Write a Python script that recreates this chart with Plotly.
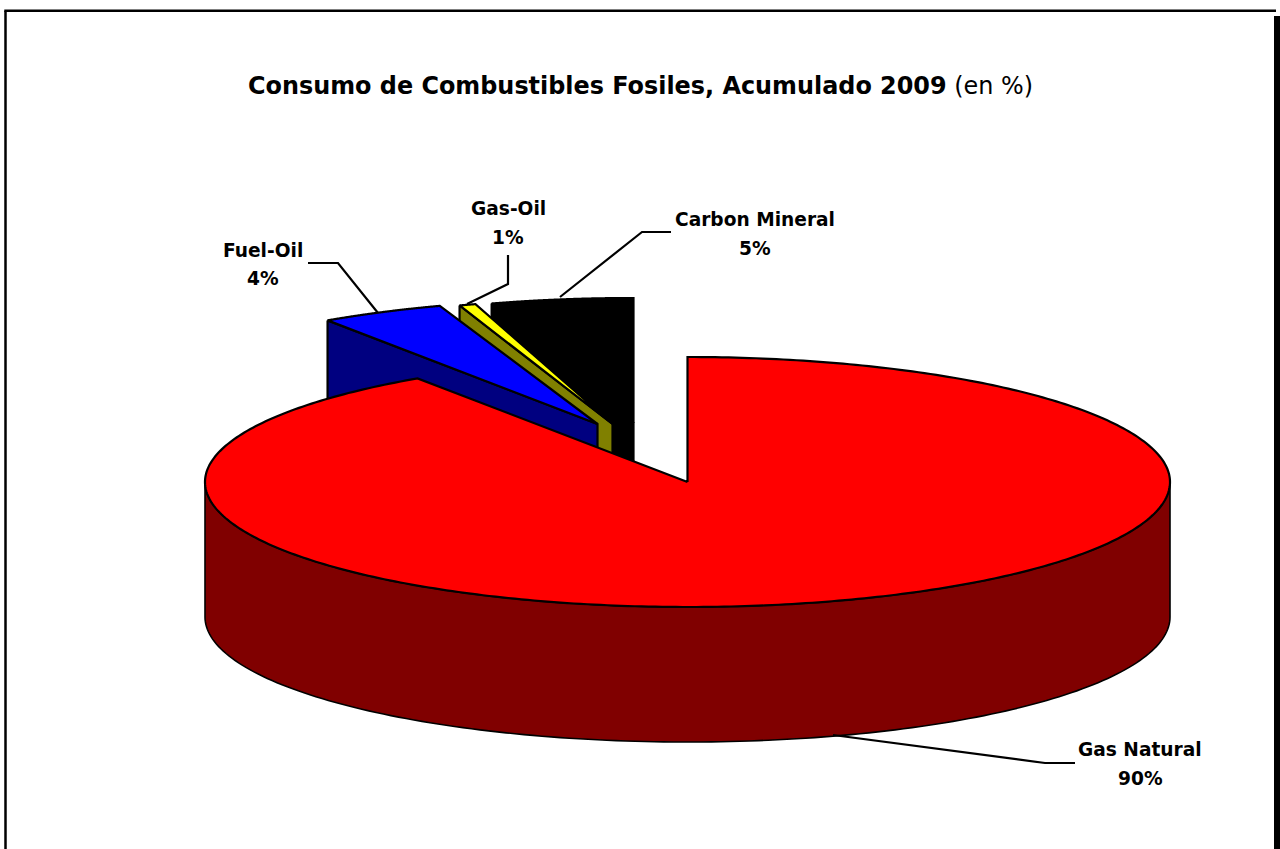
import numpy as np
import plotly.graph_objects as go

# Data
categories = ["Gas Natural", "Fuel-Oil", "Gas-Oil", "Carbon Mineral"]
values = [90.55, 4.15, 0.55, 4.75]            # slice sizes
label_pct = ["90%", "4%", "1%", "5%"]
top_colors = ["#FF0000", "#0000FF", "#FFFF00", "#000000"]
side_colors = ["#800000", "#000080", "#808000", "#000000"]

# Pie projection
CX, CY, RX, RY, DEPTH = 687.5, 482.0, 482.5, 125.0, 135.0
explode = [(0, 0), (-90, -58), (-75, -58), (-54, -59)]
angle_nudge = [0, 0, 0.6, 0]
leaders = {
    "Gas Natural": ([1075, 1045, 833], [763, 763, 735]),
    "Fuel-Oil": ([308, 338, 378], [263, 263, 313]),
    "Gas-Oil": ([508, 508, 467], [255, 284, 304]),
    "Carbon Mineral": ([671, 642, 560], [232, 232, 297]),
}
label_pos = {  # centre x, name-line y, percent-line y
    "Gas Natural": (1140, 749, 778),
    "Fuel-Oil": (263, 250, 278),
    "Gas-Oil": (508, 208, 237),
    "Carbon Mineral": (755, 219, 248),
}
LABEL_SIZE = 18.6
TITLE_SIZE = 23.9
LINE = 2.2
FONT = "DejaVu Sans"

fig = go.Figure()


def poly(x, y, fill, width=LINE):
    fig.add_trace(go.Scatter(
        x=np.append(x, x[0]), y=np.append(y, y[0]), mode="lines", fill="toself",
        fillcolor=fill, line=dict(color="#000000", width=width, simplify=False),
        hoverinfo="skip", showlegend=False))


def arc(a0, a1, ox, oy, n=160):
    t = np.radians(np.linspace(a0, a1, n))
    return CX + ox + RX * np.sin(t), CY + oy - RY * np.cos(t)


ends = np.cumsum(values) * 3.6 / (sum(values) / 100)
starts = np.concatenate([[0], ends[:-1]])

# Exploded slices, back to front
for i in (3, 2, 1):
    ox, oy = explode[i]
    ax, ay = CX + ox, CY + oy
    ax0, ay0 = arc(starts[i] + angle_nudge[i], ends[i] + angle_nudge[i], ox, oy)
    # left radial wall (from the slice's first edge to the apex)
    wx = np.array([ax0[0], ax, ax, ax0[0]])
    wy = np.array([ay0[0], ay, ay + DEPTH, ay0[0] + DEPTH])
    poly(wx, wy, side_colors[i])
    poly(np.concatenate([[ax], ax0]), np.concatenate([[ay], ay0]), top_colors[i])

# Main slice: outer wall, then top face
wx, wy = arc(90, 270, 0, 0)
poly(np.concatenate([wx, wx[::-1]]), np.concatenate([wy, wy[::-1] + DEPTH]), side_colors[0], 1.6)
tx, ty = arc(starts[0], ends[0], 0, 0, 400)
poly(np.concatenate([[CX], tx]), np.concatenate([[CY], ty]), top_colors[0])

# Leader lines
for name in categories:
    lx, ly = leaders[name]
    fig.add_trace(go.Scatter(x=lx, y=ly, mode="lines", line=dict(color="#000000", width=LINE),
                             hoverinfo="skip", showlegend=False))

# Data labels
for name, pct in zip(categories, label_pct):
    px, y1, y2 = label_pos[name]
    for txt, py in ((name, y1), (pct, y2)):
        fig.add_annotation(x=px, y=py, text=f"<b>{txt}</b>", showarrow=False,
                           font=dict(family=FONT, size=LABEL_SIZE, color="#000000"),
                           align="center", xanchor="center", yanchor="middle")

fig.add_annotation(x=640, y=86, showarrow=False, xanchor="center", yanchor="middle",
                   text="<b>Consumo de Combustibles Fosiles, Acumulado 2009</b> (en %)",
                   font=dict(family=FONT, size=TITLE_SIZE, color="#000000"))

# Chart-area frame
fig.add_shape(type="line", x0=5.5, x1=5.5, y0=849, y1=10.7, line=dict(color="#000000", width=2.5))
fig.add_shape(type="line", x0=4.3, x1=1276, y0=10.7, y1=10.7, line=dict(color="#000000", width=2.5))
fig.add_shape(type="rect", x0=1274, x1=1280, y0=16, y1=849, fillcolor="#000000", line=dict(width=0))

fig.update_layout(
    width=1280, height=849, margin=dict(l=0, r=0, t=0, b=0),
    paper_bgcolor="#FFFFFF", plot_bgcolor="#FFFFFF", showlegend=False,
    xaxis=dict(range=[0, 1280], visible=False, fixedrange=True),
    yaxis=dict(range=[849, 0], visible=False, fixedrange=True),
)
fig.write_html("out.html", config={"displayModeBar": False},
               post_script="document.body.style.margin='0';document.body.style.overflow='hidden';")
